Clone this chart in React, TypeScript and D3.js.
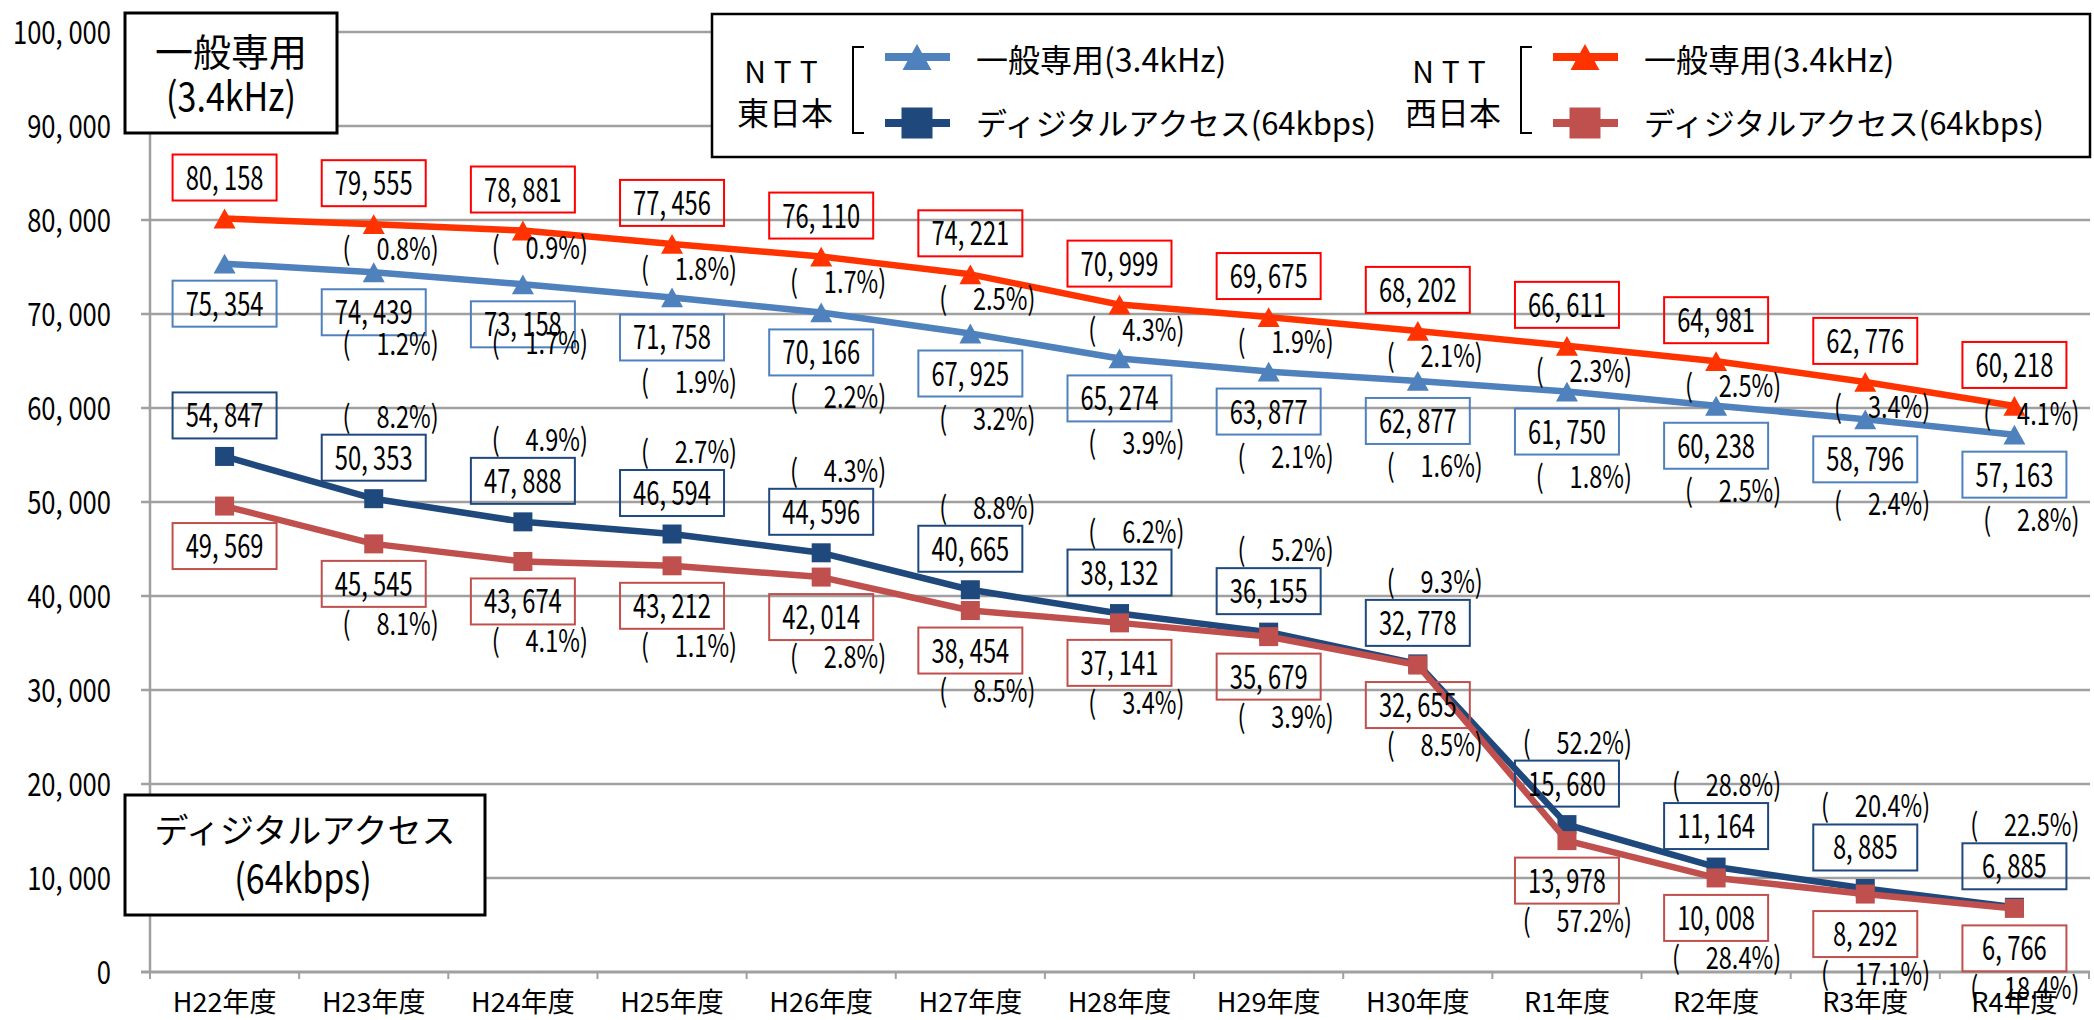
import React from "react";
import * as d3 from "d3";

const categories: string[] = [
  "H22年度", "H23年度", "H24年度", "H25年度", "H26年度", "H27年度", "H28年度",
  "H29年度", "H30年度", "R1年度", "R2年度", "R3年度", "R4年度",
];

// NTT東日本 一般専用(3.4kHz)
const eastGeneral: number[] = [75354, 74439, 73158, 71758, 70166, 67925, 65274, 63877, 62877, 61750, 60238, 58796, 57163];
const eastGeneralPct: (number | null)[] = [null, 1.2, 1.7, 1.9, 2.2, 3.2, 3.9, 2.1, 1.6, 1.8, 2.5, 2.4, 2.8];

// NTT西日本 一般専用(3.4kHz)
const westGeneral: number[] = [80158, 79555, 78881, 77456, 76110, 74221, 70999, 69675, 68202, 66611, 64981, 62776, 60218];
const westGeneralPct: (number | null)[] = [null, 0.8, 0.9, 1.8, 1.7, 2.5, 4.3, 1.9, 2.1, 2.3, 2.5, 3.4, 4.1];

// NTT東日本 ディジタルアクセス(64kbps)
const eastDigital: number[] = [54847, 50353, 47888, 46594, 44596, 40665, 38132, 36155, 32778, 15680, 11164, 8885, 6885];
const eastDigitalPct: (number | null)[] = [null, 8.2, 4.9, 2.7, 4.3, 8.8, 6.2, 5.2, 9.3, 52.2, 28.8, 20.4, 22.5];

// NTT西日本 ディジタルアクセス(64kbps)
const westDigital: number[] = [49569, 45545, 43674, 43212, 42014, 38454, 37141, 35679, 32655, 13978, 10008, 8292, 6766];
const westDigitalPct: (number | null)[] = [null, 8.1, 4.1, 1.1, 2.8, 8.5, 3.4, 3.9, 8.5, 57.2, 28.4, 17.1, 18.4];

const yTickValues: number[] = [0, 10000, 20000, 30000, 40000, 50000, 60000, 70000, 80000, 90000, 100000];

const W = 2094;
const H = 1020;
const FONT = "'Noto Sans CJK JP', 'Noto Sans', sans-serif";

const x = d3.scaleBand<string>().domain(categories).range([150, 2089]);
const y = d3.scaleLinear().domain([0, 100000]).range([972, 32]);
const cx = (i: number) => (x(categories[i]) ?? 0) + x.bandwidth() / 2;

const fmtNum = (v: number) => d3.format(",")(v).replace(/,/g, ", ");
const fmtPct = d3.format(".1f");

interface SeriesDef {
  key: string;
  values: number[];
  pct: (number | null)[];
  line: string;
  box: string;
  marker: "tri" | "sq";
  boxDy: number;
  pctDy: number;
  pctShift?: Record<number, number>;
}

const series: SeriesDef[] = [
  { key: "eastGeneral", values: eastGeneral, pct: eastGeneralPct, line: "#4F81BD", box: "#4F81BD", marker: "tri", boxDy: 40, pctDy: 85, pctShift: { 1: 72, 2: 59 } },
  { key: "eastDigital", values: eastDigital, pct: eastDigitalPct, line: "#1F497D", box: "#1F497D", marker: "sq", boxDy: -41, pctDy: -82 },
  { key: "westGeneral", values: westGeneral, pct: westGeneralPct, line: "#FF3300", box: "#FF0000", marker: "tri", boxDy: -41, pctDy: 25, pctShift: { 2: 17, 12: 8 } },
  { key: "westDigital", values: westDigital, pct: westDigitalPct, line: "#C0504D", box: "#C0504D", marker: "sq", boxDy: 40, pctDy: 80 },
];

const Marker = ({ kind, px, py, color, size }: { kind: "tri" | "sq"; px: number; py: number; color: string; size: number }) =>
  kind === "tri" ? (
    <path
      d={`M${px},${py - size * 0.45}L${px + size / 2},${py + size * 0.45}L${px - size / 2},${py + size * 0.45}Z`}
      fill={color}
    />
  ) : (
    <rect x={px - size / 2} y={py - size / 2} width={size} height={size} fill={color} />
  );

// narrow numeric text (the source font is a condensed one)
const NText = ({ tx, ty, sx = 0.8, size = 30, anchor = "middle", children }: any) => (
  <text
    transform={`translate(${tx},${ty}) scale(${sx},1)`}
    textAnchor={anchor}
    fontSize={size}
    fontFamily={FONT}
    fill="#000"
  >
    {children}
  </text>
);

const App: React.FC = () => {
  const line = d3
    .line<number>()
    .x((_, i) => cx(i))
    .y((d) => y(d));

  const boxW = 104;
  const boxH = 46;

  return (
    <svg
      width={W}
      height={H}
      style={{ position: "absolute", left: 0, top: 0, display: "block", background: "#fff" }}
    >
      {/* grid */}
      {yTickValues.map((t) => (
        <line key={t} x1={141} x2={2090} y1={y(t)} y2={y(t)} stroke="#A0A0A0" strokeWidth={t === 0 ? 3 : 2.5} />
      ))}
      <line x1={150} x2={150} y1={y(100000)} y2={y(0)} stroke="#A0A0A0" strokeWidth={2.5} />
      {categories.map((c) => (
        <line key={c} x1={x(c)!} x2={x(c)!} y1={y(0)} y2={y(0) + 7} stroke="#A0A0A0" strokeWidth={2} />
      ))}
      <line x1={2089} x2={2089} y1={y(0)} y2={y(0) + 7} stroke="#A0A0A0" strokeWidth={2} />

      {/* y tick labels */}
      {yTickValues.map((t) => (
        <NText key={t} tx={111} ty={y(t) + 12} sx={0.8} size={32} anchor="end">
          {fmtNum(t)}
        </NText>
      ))}

      {/* x labels */}
      {categories.map((c, i) => (
        <text key={c} x={cx(i)} y={1012} textAnchor="middle" fontSize={27} fontFamily={FONT} fill="#000">
          {c}
        </text>
      ))}

      {/* lines and markers */}
      {series.map((s) => (
        <g key={s.key}>
          <path d={line(s.values) ?? ""} fill="none" stroke={s.line} strokeWidth={6.5} strokeLinejoin="round" />
          {s.values.map((v, i) => (
            <Marker key={i} kind={s.marker} px={cx(i)} py={y(v)} color={s.line} size={s.marker === "tri" ? 22 : 19} />
          ))}
        </g>
      ))}

      {/* value boxes and percent labels */}
      {series.map((s) => (
        <g key={s.key + "-labels"}>
          {s.values.map((v, i) => {
            const px = cx(i);
            const py = y(v);
            const by = py + s.boxDy;
            return (
              <g key={i}>
                <rect x={px - boxW / 2} y={by - boxH / 2} width={boxW} height={boxH} fill="none" stroke={s.box} strokeWidth={2} />
                <NText tx={px} ty={by + 12} sx={0.72} size={33}>
                  {fmtNum(v)}
                </NText>
              </g>
            );
          })}
          {s.pct.map((p, i) => {
            if (p == null) return null;
            const dy = s.pctShift && s.pctShift[i] != null ? s.pctShift[i] : s.pctDy;
            return (
              <NText key={"p" + i} tx={cx(i) + 65} ty={y(s.values[i]) + dy + 11} sx={0.76} size={31} anchor="end">
                (<tspan dx={34}>{fmtPct(p)}%)</tspan>
              </NText>
            );
          })}
        </g>
      ))}

      {/* top-left category box */}
      <rect x={125} y={13} width={212} height={120} fill="#fff" stroke="#000" strokeWidth={3} />
      <text x={231} y={66} textAnchor="middle" fontSize={38} fontFamily={FONT}>一般専用</text>
      <NText tx={231} ty={111} sx={0.85} size={40}>(3.4kHz)</NText>

      {/* bottom-left category box */}
      <rect x={125} y={795} width={360} height={120} fill="#fff" stroke="#000" strokeWidth={3} />
      <text x={305} y={843} textAnchor="middle" fontSize={34} fontFamily={FONT}>ディジタルアクセス</text>
      <NText tx={303} ty={893} sx={0.85} size={40}>(64kbps)</NText>

      {/* legend */}
      <rect x={712} y={14} width={1378} height={143} fill="#fff" stroke="#000" strokeWidth={2.5} />
      {[
        { ox: 0, company: "東日本", gen: series[0], dig: series[1] },
        { ox: 668, company: "西日本", gen: series[2], dig: series[3] },
      ].map((g) => (
        <g key={g.company} transform={`translate(${g.ox},0)`}>
          <text x={785} y={83} textAnchor="middle" fontSize={30} fontFamily={FONT} letterSpacing={8}>NTT</text>
          <text x={785} y={125} textAnchor="middle" fontSize={32} fontFamily={FONT}>{g.company}</text>
          <path d="M864,47H853V133H864" fill="none" stroke="#000" strokeWidth={2} />
          <line x1={885} x2={950} y1={57} y2={57} stroke={g.gen.line} strokeWidth={8} />
          <Marker kind="tri" px={917} py={57} color={g.gen.line} size={29} />
          <line x1={885} x2={950} y1={123} y2={123} stroke={g.dig.line} strokeWidth={8} />
          <Marker kind="sq" px={917} py={123} color={g.dig.line} size={31} />
          <text x={976} y={72} fontSize={32} fontFamily={FONT}>一般専用(3.4kHz)</text>
          <text x={976} y={135} fontSize={31} fontFamily={FONT}>ディジタルアクセス(64kbps)</text>
        </g>
      ))}
    </svg>
  );
};

export default App;
